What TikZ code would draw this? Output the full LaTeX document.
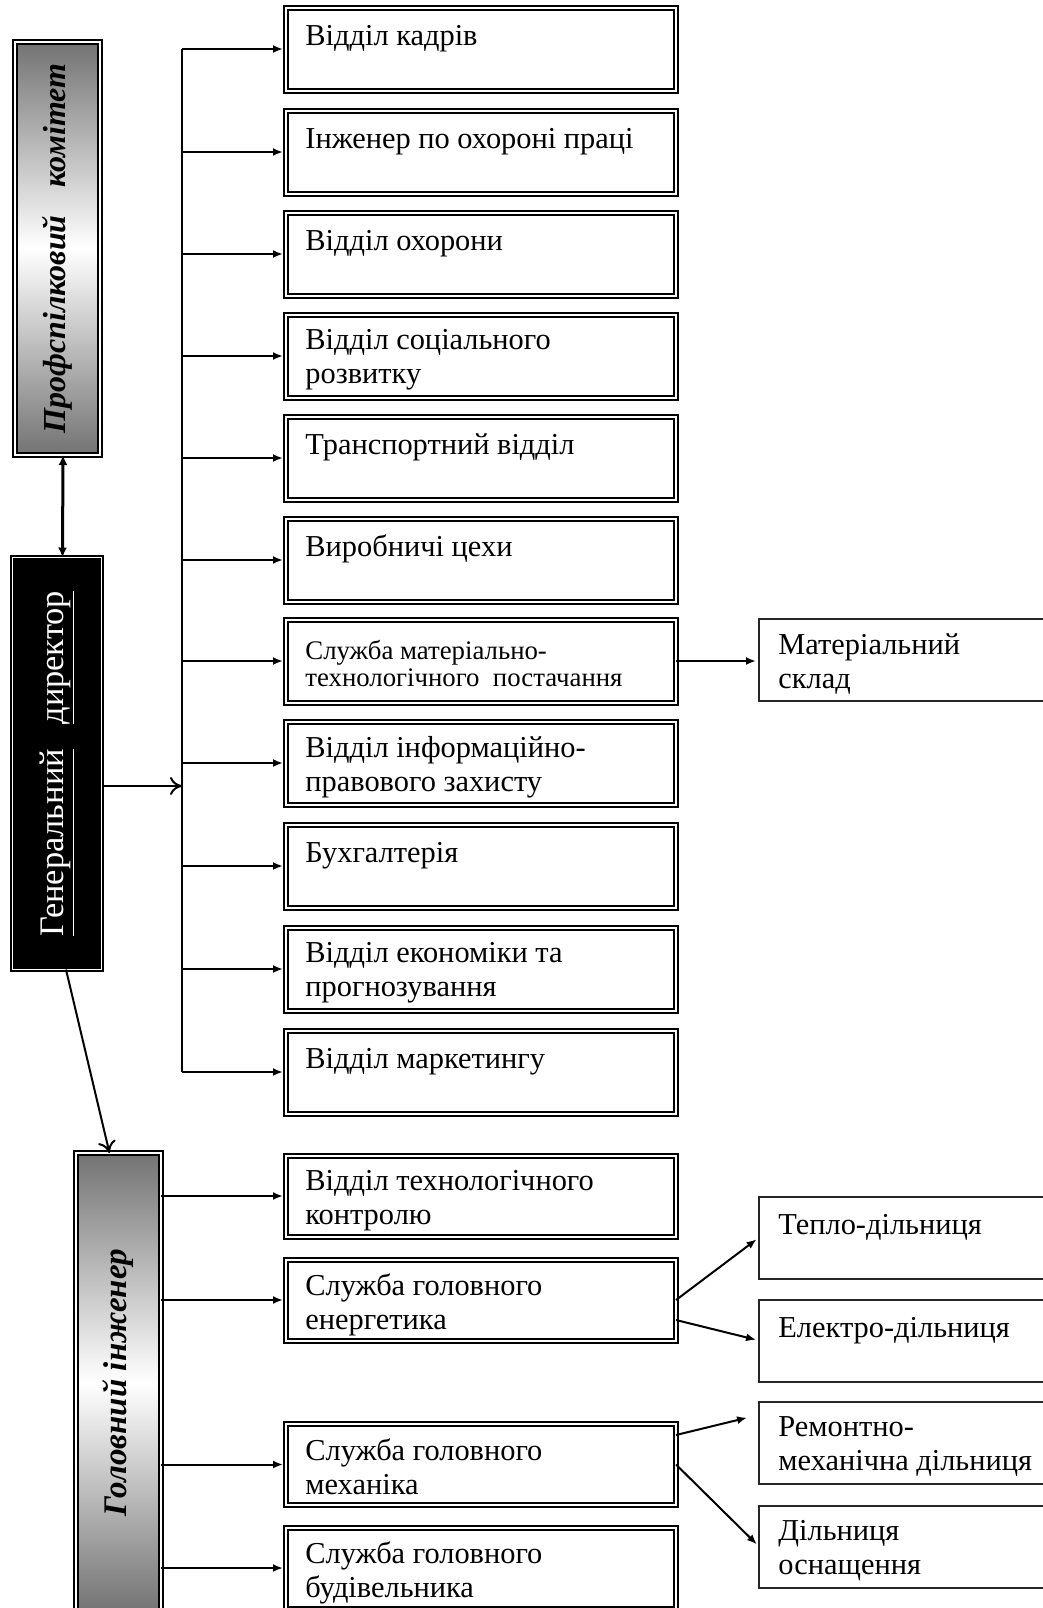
\documentclass[tikz,border=0pt]{standalone}
\usepackage{fontspec}
\setmainfont{Liberation Serif}
\usetikzlibrary{arrows.meta}
\begin{document}
\begin{tikzpicture}[x=0.5pt, y=-0.5pt,
unit node/.style={draw=black, line width=1pt, double, double distance=1pt, fill=white, outer sep=0pt, inner sep=0pt, minimum width=195pt, minimum height=41.5pt},
sub node/.style={draw=black!85, line width=1pt, fill=white, outer sep=0pt, inner sep=0pt, minimum width=150.5pt, minimum height=41pt},
side node/.style={draw=black, line width=1pt, double, double distance=1pt, outer sep=0pt, inner sep=0pt, minimum width=42.5pt, top color=black!55, bottom color=black!55, middle color=white, font=\bfseries\itshape\fontsize{16}{19}\selectfont},
gen node/.style={draw=black, line width=1pt, double=white, double distance=0.6pt, fill=black, text=white, outer sep=0pt, inner sep=0pt, minimum width=44.5pt, minimum height=206pt, font=\fontsize{17.2}{19}\selectfont},
txt/.style={anchor=north west, align=left, inner sep=0pt, xshift=9.5pt, yshift=-7.1pt, font=\fontsize{15.2}{17}\selectfont, execute at begin node=\strut}]
\useasboundingbox (0,0) rectangle (1043,1608);
\begin{scope}
\node[side node, minimum height=206.5pt] (prof) at (57.5,248.5) {\rotatebox{90}{Профспілковий\hspace{10pt} комітет}};
\node[gen node] (gen) at (57,763.5) {\rotatebox{90}{\underline{Генеральний}\hspace{8pt} \underline{директор}}};
\node[side node, minimum height=229.5pt, font=\bfseries\itshape\fontsize{16.5}{19}\selectfont] (head) at (118.5,1382.5) {\rotatebox{90}{Головний інженер}};
\coordinate (bus) at (182,786);
% departments
\node[unit node, label={[txt]north west:Відділ кадрів}] (d1) at (481,49) {};
\node[unit node, label={[txt]north west:Інженер по охороні праці}] (d2) at (481,152) {};
\node[unit node, label={[txt]north west:Відділ охорони}] (d3) at (481,254) {};
\node[unit node, label={[txt]north west:Відділ соціального\\розвитку}] (d4) at (481,356) {};
\node[unit node, label={[txt]north west:Транспортний відділ}] (d5) at (481,458) {};
\node[unit node, label={[txt]north west:Виробничі цехи}] (d6) at (481,560) {};
\node[unit node, label={[txt, yshift=-3.05pt, font=\fontsize{13.4}{13.5}\selectfont]north west:Служба матеріально-\\технологічного\ \ постачання}] (d7) at (481,661) {};
\node[unit node, label={[txt]north west:Відділ інформаційно-\\правового захисту}] (d8) at (481,763) {};
\node[unit node, label={[txt]north west:Бухгалтерія}] (d9) at (481,866) {};
\node[unit node, label={[txt]north west:Відділ економіки та\\прогнозування}] (d10) at (481,969) {};
\node[unit node, label={[txt]north west:Відділ маркетингу}] (d11) at (481,1072) {};
% chief engineer
\node[unit node, minimum height=40.5pt, label={[txt]north west:Відділ технологічного\\контролю}] (e1) at (481,1196) {};
\node[unit node, minimum height=40.5pt, label={[txt]north west:Служба головного\\енергетика}] (e2) at (481,1300) {};
\node[unit node, minimum height=40.5pt, label={[txt]north west:Служба головного\\механіка}] (e3) at (481,1464.5) {};
\node[unit node, minimum height=40.5pt, label={[txt]north west:Служба головного\\будівельника}] (e4) at (481,1568) {};
% sections
\node[sub node, label={[txt]north west:Матеріальний\\склад}] (s1) at (909.5,660) {};
\node[sub node, label={[txt]north west:Тепло-дільниця}] (s2) at (909.5,1237.5) {};
\node[sub node, label={[txt]north west:Електро-дільниця}] (s3) at (909.5,1340.5) {};
\node[sub node, label={[txt]north west:Ремонтно-\\механічна дільниця}] (s4) at (909.5,1443) {};
\node[sub node, label={[txt]north west:Дільниця\\оснащення}] (s5) at (909.5,1546.5) {};
\end{scope}
\begin{scope}[every edge/.style={draw=black, line width=1pt, -{Latex[length=5pt,width=4pt]}, shorten >=1.5pt}]
\draw[line width=1pt] (bus |- d1.west) -- (bus |- d11.west);
\draw (bus |- d1.west) edge (d1.west);
\draw (bus |- d2.west) edge (d2.west);
\draw (bus |- d3.west) edge (d3.west);
\draw (bus |- d4.west) edge (d4.west);
\draw (bus |- d5.west) edge (d5.west);
\draw (bus |- d6.west) edge (d6.west);
\draw (bus |- d7.west) edge (d7.west);
\draw (bus |- d8.west) edge (d8.west);
\draw (bus |- d9.west) edge (d9.west);
\draw (bus |- d10.west) edge (d10.west);
\draw (bus |- d11.west) edge (d11.west);
\draw ([xshift=2.75pt]prof.south) edge[{Latex[length=5pt,width=4.5pt]}-{Latex[length=5pt,width=4.5pt]}, line width=1.5pt, shorten >=0pt] ([xshift=2.75pt]gen.north);
\draw ([yshift=-11.25pt]gen.east) edge[-{To[length=6pt,width=9pt]}, shorten >=0pt] (bus);
\draw ([xshift=4.5pt]gen.south) edge[-{To[length=6pt,width=9pt]}, shorten >=0pt] ([xshift=-4.5pt]head.north);
\draw (head.east |- e1.west) edge (e1.west);
\draw (head.east |- e2.west) edge (e2.west);
\draw (head.east |- e3.west) edge (e3.west);
\draw (head.east |- e4.west) edge (e4.west);
\draw (d7.east) edge (d7.east -| s1.west);
\draw (e2.east) edge (s2.west);
\draw ([yshift=-10pt]e2.east) edge (s3.west);
\draw ([yshift=14.75pt]e3.east) edge ([xshift=-4.5pt,yshift=13pt]s4.west);
\draw (e3.east) edge (s5.west);
\end{scope}
\end{tikzpicture}
\end{document}
